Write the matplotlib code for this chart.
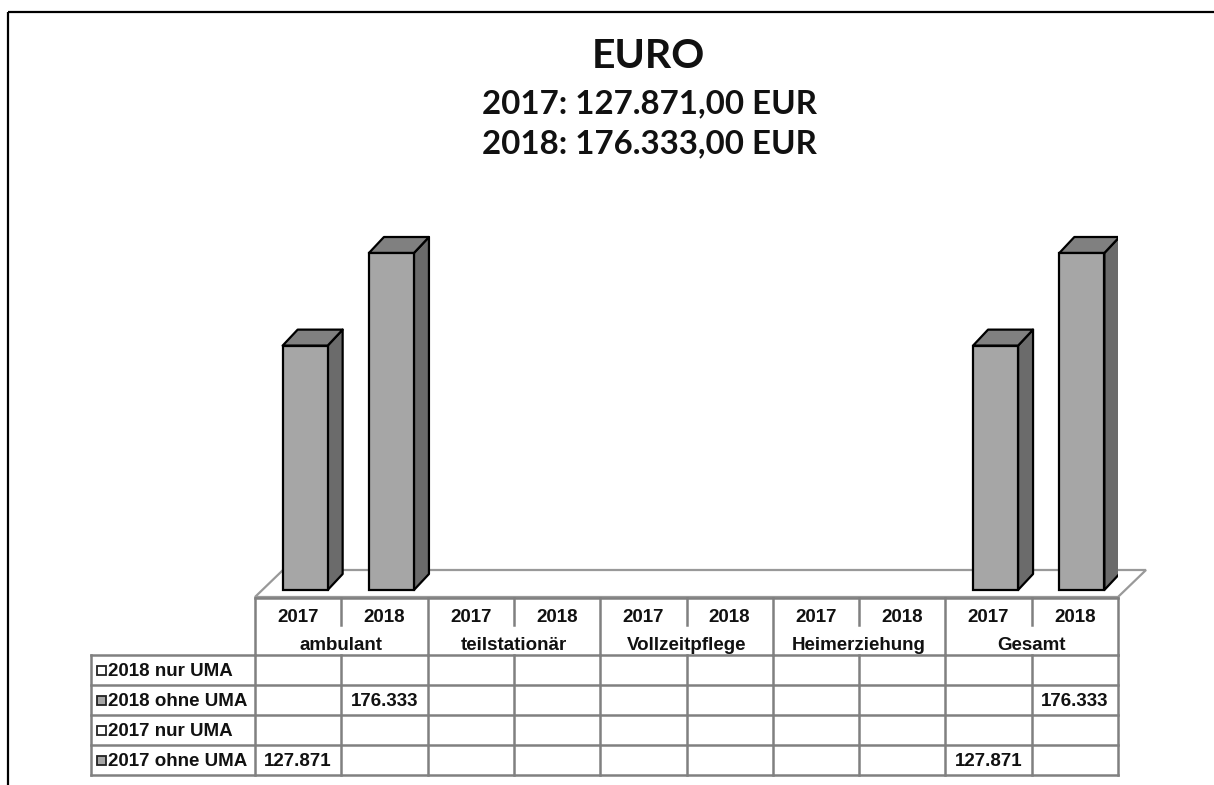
import matplotlib
matplotlib.use("Agg")
import matplotlib.pyplot as plt
from matplotlib.patches import Polygon, Rectangle

# ---- data ----
categories = ["ambulant", "teilstationär", "Vollzeitpflege", "Heimerziehung", "Gesamt"]
years = ["2017", "2018"]
series_names = ["2018 nur UMA", "2018 ohne UMA", "2017 nur UMA", "2017 ohne UMA"]
vals_2018_nur = [None, None, None, None, None, None, None, None, None, None]
vals_2018_ohne = [None, 176333, None, None, None, None, None, None, None, 176333]
vals_2017_nur = [None, None, None, None, None, None, None, None, None, None]
vals_2017_ohne = [127871, None, None, None, None, None, None, None, 127871, None]
title_lines = ["EURO", "2017: 127.871,00 EUR", "2018: 176.333,00 EUR"]

series_vals = [vals_2018_nur, vals_2018_ohne, vals_2017_nur, vals_2017_ohne]
series_fill = ["white", "#a6a6a6", "white", "#a6a6a6"]

FRONT = "#a6a6a6"
SIDE = "#6b6b6b"
TOP = "#808080"
GRID = "#808080"

W, H = 1214, 785
fig = plt.figure(figsize=(W / 100, H / 100), dpi=100)

# layout (pixels)
tab_left, colw = 255.0, 86.3
ncol = len(categories) * len(years)
floor_front_px, ax_top_px = 597.0, 200.0
zero_px = 590.0

vmax = max(v for s in series_vals for v in s if v is not None)
px_per_unit = 337.0 / vmax
ymin = -(floor_front_px - zero_px) / px_per_unit
ymax = (zero_px - ax_top_px) / px_per_unit

ax = fig.add_axes([tab_left / W, (H - floor_front_px) / H, ncol * colw / W,
                   (floor_front_px - ax_top_px) / H])
ax.set_xlim(0, ncol)
ax.set_ylim(ymin, ymax)
ax.axis("off")

def px_x(p):
    return p / colw

def px_y(p):
    return p / px_per_unit

# floor
fdx, fdy = px_x(28), px_y(27)
fy = ymin
floor = Polygon([(0, fy), (ncol, fy), (ncol + fdx, fy + fdy), (0 + fdx, fy + fdy)],
                closed=True, facecolor="white", edgecolor="#999999", lw=1.6,
                clip_on=False, zorder=1)
ax.add_patch(floor)

# bars (stacked: ohne UMA then nur UMA per year)
bw = px_x(45)
boff = px_x(7)
ddx, ddy = px_x(15), px_y(16)
year_series = {0: (vals_2017_ohne, vals_2017_nur), 1: (vals_2018_ohne, vals_2018_nur)}
xs = [i + 0.5 + boff for i in range(ncol)]
for i in range(ncol):
    ohne, nur = year_series[i % 2]
    bottom = 0
    for s in (ohne, nur):
        v = s[i]
        if v is None:
            continue
        x = xs[i]
        ax.bar(x, v, width=bw, bottom=bottom, color=FRONT, edgecolor="black",
               lw=1.6, zorder=3)
        top = bottom + v
        side = Polygon([(x + bw / 2, bottom), (x + bw / 2 + ddx, bottom + ddy),
                        (x + bw / 2 + ddx, top + ddy), (x + bw / 2, top)],
                       closed=True, facecolor=SIDE, edgecolor="black", lw=1.6,
                       zorder=2, joinstyle="round")
        topf = Polygon([(x - bw / 2, top), (x + bw / 2, top),
                        (x + bw / 2 + ddx, top + ddy), (x - bw / 2 + ddx, top + ddy)],
                       closed=True, facecolor=TOP, edgecolor="black", lw=1.6,
                       zorder=2, joinstyle="round")
        ax.add_patch(side)
        ax.add_patch(topf)
        bottom = top

# overlay axes in pixel coords for table / frame / titles
ov = fig.add_axes([0, 0, 1, 1], zorder=5)
ov.set_xlim(0, W)
ov.set_ylim(H, 0)
ov.axis("off")
ov.patch.set_alpha(0)

# frame
ov.plot([8, W], [12, 12], color="black", lw=1.6, solid_capstyle="butt")
ov.plot([8, 8], [12, H], color="black", lw=1.6, solid_capstyle="butt")

# titles
ov.text(648, 56, title_lines[0], ha="center", va="center", fontsize=29.5,
        fontweight="bold", family="Lato", color="#111111")
ov.text(649, 104, title_lines[1], ha="center", va="center", fontsize=23.8,
        fontweight="bold", family="Lato", color="#111111")
ov.text(649, 144, title_lines[2], ha="center", va="center", fontsize=23.8,
        fontweight="bold", family="Lato", color="#111111")

# table
edges = [tab_left + i * colw for i in range(ncol + 1)]
lab_left = 91
y_head, y_year, y_cat = 598, 625, 655
row_h = 30
rows_y = [y_cat + k * row_h for k in range(len(series_names) + 1)]
lw = 1.8
kw = dict(color=GRID, lw=lw, solid_capstyle="projecting")

ov.plot([edges[0], edges[-1]], [y_head, y_head], **kw)
for i, e in enumerate(edges):
    if i % 2 == 1:
        ov.plot([e, e], [y_head, y_year], **kw)
    else:
        ov.plot([e, e], [y_head, y_cat], **kw)
for y in rows_y:
    ov.plot([lab_left, edges[-1]], [y, y], **kw)
for e in [lab_left] + edges:
    ov.plot([e, e], [rows_y[0], rows_y[-1]], **kw)

tfont = dict(family="Liberation Sans", fontweight="bold", fontsize=13.5, color="#111111")
for i in range(ncol):
    ov.text((edges[i] + edges[i + 1]) / 2, 617, years[i % 2],
            ha="center", va="center", **tfont)
for j, c in enumerate(categories):
    ov.text((edges[2 * j] + edges[2 * j + 2]) / 2, 645, c,
            ha="center", va="center", **tfont)

def fmt(v):
    return f"{v:,}".replace(",", ".")

for r, (name, vals, fillc) in enumerate(zip(series_names, series_vals, series_fill)):
    yc = (rows_y[r] + rows_y[r + 1]) / 2
    ov.add_patch(Rectangle((96.5, yc - 4), 9, 9, facecolor=fillc,
                           edgecolor="#222222", lw=1.3))
    ov.text(107.5, yc + 1, name, ha="left", va="center", **tfont)
    for i, v in enumerate(vals):
        if v is not None:
            ov.text((edges[i] + edges[i + 1]) / 2, yc + 1, fmt(v),
                    ha="center", va="center", **tfont)

fig.savefig("out.png", dpi=100, facecolor="white")
